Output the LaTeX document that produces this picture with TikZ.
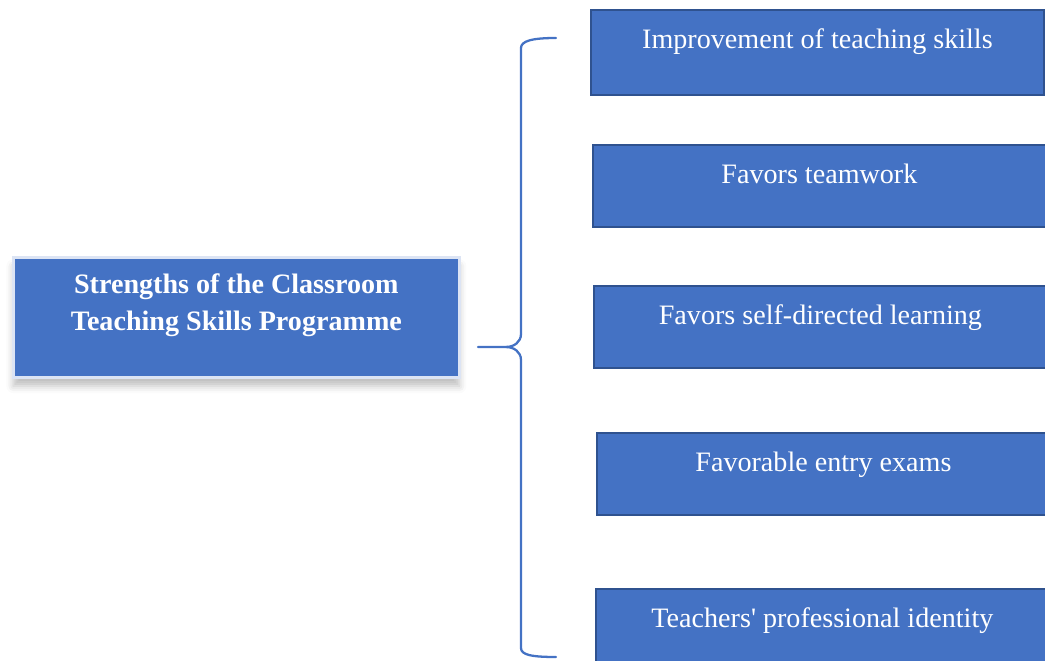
\documentclass[tikz,border=0pt]{standalone}
\usepackage{fontspec}
\setmainfont{Liberation Serif}
\usetikzlibrary{shadows.blur}
\definecolor{boxblue}{HTML}{4472C4}
\definecolor{edgeblue}{HTML}{2F528F}
\definecolor{rimblue}{HTML}{DCE4F4}

\begin{document}
\begin{tikzpicture}[x=0.02cm,y=-0.02cm,
    strength/.style={draw=edgeblue, line width=1.1pt, fill=boxblue, text=white,
      anchor=north west, inner sep=0pt, minimum width=9.06cm,
      text height=0.78cm, text depth=0.86cm, font=\fontsize{16}{19}\selectfont},
    topic/.style={draw=rimblue, line width=1.6pt, fill=boxblue, text=white,
      anchor=north west, inner sep=0pt, minimum width=8.92cm, align=center,
      text height=1.46cm, text depth=0.94cm, font=\bfseries\fontsize{16}{21}\selectfont,
      blur shadow={shadow xshift=0pt, shadow yshift=-5pt, shadow blur radius=4pt, shadow opacity=25}},
    brace line/.style={draw=boxblue, line width=1.3pt, line cap=round}]
     \useasboundingbox (0,0) rectangle (1045,661);
     % main topic
     \node[topic] (main) at (12,256) {Strengths of the Classroom\\Teaching Skills Programme};
     % strengths
     \node[strength, text depth=0.92cm] (s1) at (590,9) {Improvement of teaching skills};
     \node[strength] (s2) at (592,144) {Favors teamwork};
     \node[strength] (s3) at (593,285) {Favors self-directed learning};
     \node[strength] (s4) at (596,432) {Favorable entry exams};
     \node[strength] (s5) at (595,588) {Teachers\textquotesingle{} professional identity};
     % brace
     \coordinate (top) at (556,38);
     \coordinate (bot) at (556,657);
     \coordinate (cusp) at (506,347);
     \coordinate (tip) at (478,347);
     \draw[brace line] (top) .. controls (532,38) and (521,41) .. (521,48) -- (521,334)
        .. controls (521,342) and (514,347) .. (cusp) -- (tip);
     \draw[brace line] (cusp) .. controls (514,347) and (521,352) .. (521,360) -- (521,648)
        .. controls (521,655) and (532,657) .. (bot);
\end{tikzpicture}
\end{document}
